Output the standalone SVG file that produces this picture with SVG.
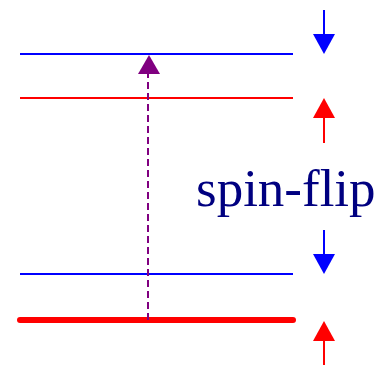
<svg xmlns="http://www.w3.org/2000/svg" width="381" height="367" viewBox="0 0 381 367">
<style>
.lvl{fill:none}
.b{stroke:#0000ff;stroke-width:2}
.r{stroke:#ff0000;stroke-width:2}
.thick{stroke:#ff0000;stroke-width:6;stroke-linecap:round}
.lbl{font-family:"Liberation Serif","Times New Roman",serif;font-size:53px;fill:#000080}
</style>
<rect width="381" height="367" fill="#ffffff"/>
<g id="level-up-down">
<line class="lvl b" x1="20" y1="54" x2="293" y2="54"/>
</g>
<g id="level-up-up">
<line class="lvl r" x1="20" y1="98" x2="293" y2="98"/>
</g>
<g id="level-low-down">
<line class="lvl b" x1="20" y1="274" x2="293" y2="274"/>
</g>
<g id="level-ground">
<line class="lvl thick" x1="20" y1="320" x2="293" y2="320"/>
</g>
<g id="spin1">
<line x1="324" y1="10" x2="324" y2="36" stroke="#0000ff" stroke-width="2"/>
<polygon points="313,34 335,34 324,54" fill="#0000ff"/>
</g>
<g id="spin2">
<line x1="324" y1="116" x2="324" y2="143" stroke="#ff0000" stroke-width="2"/>
<polygon points="313,118 335,118 324,98" fill="#ff0000"/>
</g>
<g id="spin3">
<line x1="324" y1="230" x2="324" y2="256" stroke="#0000ff" stroke-width="2"/>
<polygon points="313,254 335,254 324,274" fill="#0000ff"/>
</g>
<g id="spin4">
<line x1="324" y1="339" x2="324" y2="365" stroke="#ff0000" stroke-width="2"/>
<polygon points="313,341 335,341 324,321" fill="#ff0000"/>
</g>
<g id="label">
<text class="lbl" x="196" y="206">spin-flip</text>
</g>
<g id="connectors">
<line x1="148" y1="320" x2="148" y2="72" stroke="#800080" stroke-width="2" stroke-dasharray="7,4"/>
<polygon points="138,74 160,74 149,55" fill="#800080"/>
</g>
</svg>
